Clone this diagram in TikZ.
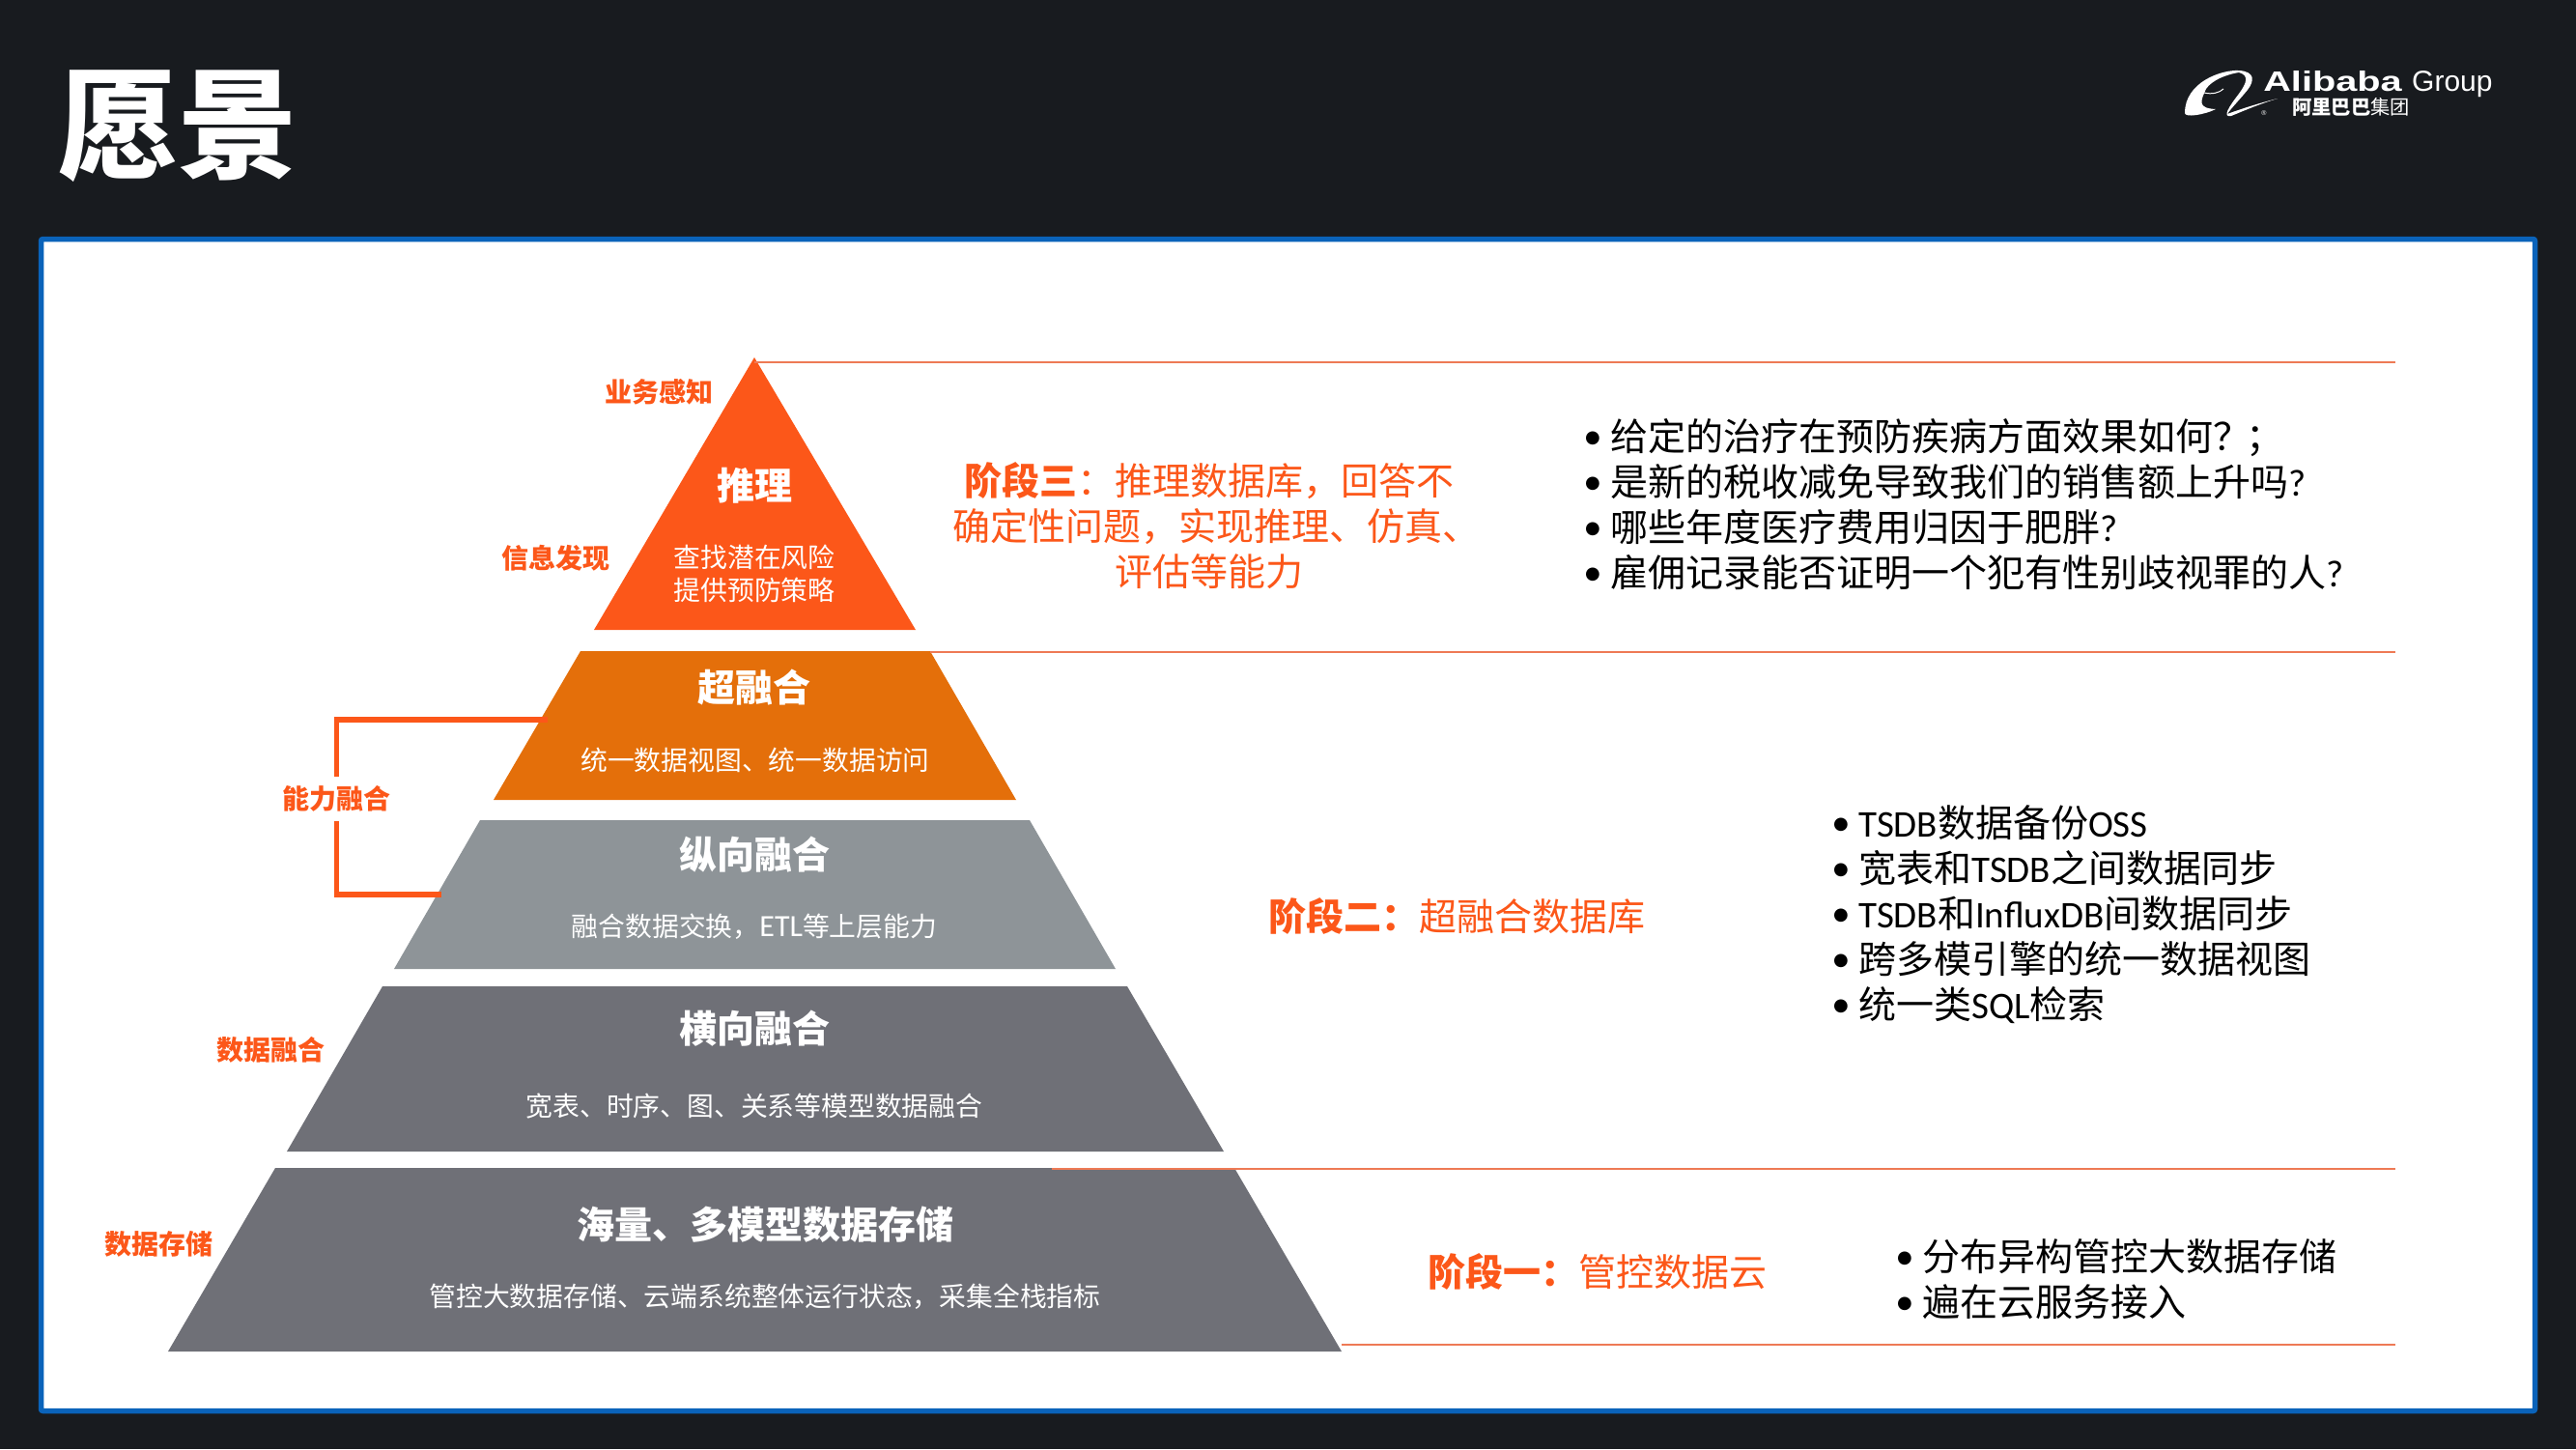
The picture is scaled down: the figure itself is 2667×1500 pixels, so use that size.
\documentclass[tikz,border=0pt]{standalone}
\usepackage{fontspec}
\setmainfont{Noto Sans CJK SC}
\newfontfamily\latfont{Carlito}
\newfontfamily\dotfont{DejaVu Sans}
\newfontfamily\arfont{Liberation Sans}
\definecolor{bgdark}{HTML}{181B1F}
\definecolor{panelblue}{HTML}{0A63BA}
\definecolor{accent}{HTML}{FC5719}
\definecolor{rulec}{HTML}{EE7A55}
\definecolor{amber}{HTML}{E46F0A}
\definecolor{slate}{HTML}{8E9498}
\definecolor{darkgrey}{HTML}{6F7077}
\tikzset{
  x=1pt,y=-1pt,
  rulel/.style={draw=rulec,line width=2pt},
  title/.style={text=white,font=\fontsize{39}{39}\selectfont\bfseries,inner sep=0pt,anchor=center},
  sub/.style={text=white,font=\fontsize{27.8}{33.5}\selectfont,inner sep=0pt,anchor=center,align=center},
  side/.style={text=accent,font=\fontsize{28}{30}\selectfont\bfseries,inner sep=0pt,anchor=center},
  stage/.style={text=accent,font=\fontsize{39}{47}\selectfont,inner sep=0pt,anchor=center,align=center},
  bul/.style={text=black,font=\fontsize{39}{47}\selectfont,inner sep=0pt,anchor=west,align=left},
  bracket/.style={draw=accent,line width=5.5pt},
}
\newcommand{\bl}{\makebox[27pt][l]{\hspace*{1pt}\raisebox{8pt}{\dotfont\fontsize{18}{18}\selectfont ●}}}
\newcommand{\lt}[1]{{\latfont #1}}
\begin{document}
\begin{tikzpicture}
\useasboundingbox (0,0) rectangle (2667,1500);
\fill[bgdark] (0,0) rectangle (2667,1500);
\fill[white,draw=panelblue,line width=5.5pt,rounded corners=2pt] (42.5,247.5) rectangle (2624.5,1460.5);
\node[text=white,font=\fontsize{124}{124}\selectfont\bfseries,inner sep=0pt] (ttl) at (184,131) {愿景};
% logo
\fill[white] (2262,117) .. controls (2262,85) and (2300,72) .. (2318,73) .. controls (2335,74) and (2334,84) .. (2327,93) .. controls (2318,104) and (2310,112) .. (2306,118) .. controls (2322,112) and (2342,106) .. (2358,102) .. controls (2338,108) and (2320,116) .. (2310,120) .. controls (2300,122) and (2308,110) .. (2318,97) .. controls (2326,86) and (2329,78) .. (2318,75) .. controls (2305,77) and (2290,83) .. (2284,92) .. controls (2278,105) and (2275,112) .. (2294,113) .. controls (2282,119) and (2262,122) .. (2262,117) -- cycle;
\draw[white,line width=1pt] (2282,96) .. controls (2290,98) and (2298,96) .. (2302,92);
\node[text=white,font=\arfont\bfseries\fontsize{29}{29}\selectfont,inner sep=0pt,anchor=base west,xscale=1.37] (lg1) at (2343,94) {Alibaba};
\node[text=white,font=\arfont\fontsize{30}{30}\selectfont,inner sep=0pt,anchor=base west] (lg2) at (2497,94) {Group};
\node[text=white,font=\fontsize{20.3}{20.3}\selectfont,inner sep=0pt,anchor=west] (lg3) at (2373,111) {{\bfseries 阿里巴巴}集团};
\node[text=white,font=\arfont\fontsize{7}{7}\selectfont,inner sep=0pt] (lg4) at (2344,117) {®};
% rules
\coordinate (r1a) at (781,375); \coordinate (r1b) at (2480,375);
\coordinate (r2a) at (963,675); \coordinate (r2b) at (2480,675);
\coordinate (r3a) at (1089,1210); \coordinate (r3b) at (2480,1210);
\coordinate (r4a) at (1389,1392); \coordinate (r4b) at (2480,1392);
% pyramid
\fill[accent] (781,370) -- (948,652) -- (615,652) -- cycle;
\fill[amber] (601,674) -- (963,674) -- (1052,828) -- (511,828) -- cycle;
\fill[slate] (497,849) -- (1066,849) -- (1155,1003) -- (408,1003) -- cycle;
\fill[darkgrey] (396,1021) -- (1167,1021) -- (1267,1192) -- (297,1192) -- cycle;
\fill[darkgrey] (285,1209) -- (1278,1209) -- (1389,1399) -- (174,1399) -- cycle;
\draw[rulel] (r1a) -- (r1b);
\draw[rulel] (r2a) -- (r2b);
\draw[rulel] (r3a) -- (r3b);
\draw[rulel] (r4a) -- (r4b);
% pyramid labels
\node[title] (t1) at (781,503) {推理};
\node[sub] (s1) at (781,594) {查找潜在风险\\提供预防策略};
\node[title] (t2) at (781,712) {超融合};
\node[sub] (s2) at (782,787) {统一数据视图、统一数据访问};
\node[title] (t3) at (781,885) {纵向融合};
\node[sub] (s3) at (781,959) {融合数据交换，{\latfont\fontsize{32}{32}\selectfont ETL}等上层能力};
\node[title] (t4) at (781,1065) {横向融合};
\node[sub] (s4) at (781,1145) {宽表、时序、图、关系等模型数据融合};
\node[title] (t5) at (792,1268) {海量、多模型数据存储};
\node[sub] (s5) at (792,1342) {管控大数据存储、云端系统整体运行状态，采集全栈指标};
% side labels
\node[side] (a1) at (682,406) {业务感知};
\node[side] (a2) at (575,578) {信息发现};
\node[side,minimum height=46pt] (a3) at (348.5,827) {能力融合};
\node[side] (a4) at (280,1087) {数据融合};
\node[side] (a5) at (164,1288) {数据存储};
\coordinate (b1) at (567,745);
\coordinate (b2) at (457,926);
\draw[bracket] (a3.north) |- (b1);
\draw[bracket] (a3.south) |- (b2);
% stages
\node[stage] (p3) at (1252,544) {{\bfseries 阶段三}：推理数据库，回答不\\\hspace*{14pt}确定性问题，实现推理、仿真、\\评估等能力};
\node[stage] (p2) at (1508,948) {{\bfseries 阶段二：}超融合数据库};
\node[stage] (p1) at (1654,1316) {{\bfseries 阶段一：}管控数据云};
% bullets
\node[bul] (l3) at (1640,522) {\bl 给定的治疗在预防疾病方面效果如何？\hspace*{-5pt}；\\\bl 是新的税收减免导致我们的销售额上升吗\lt{?}\\\bl 哪些年度医疗费用归因于肥胖\lt{?}\\\bl 雇佣记录能否证明一个犯有性别歧视罪的人\lt{?}};
\node[bul] (l2) at (1897,946.5) {\bl \lt{TSDB}数据备份\lt{OSS}\\\bl 宽表和\lt{TSDB}之间数据同步\\\bl \lt{TSDB}和\lt{InfluxDB}间数据同步\\\bl 跨多模引擎的统一数据视图\\\bl 统一类\lt{SQL}检索};
\node[bul] (l1) at (1963,1324) {\bl 分布异构管控大数据存储\\\bl 遍在云服务接入};
\end{tikzpicture}
\end{document}
